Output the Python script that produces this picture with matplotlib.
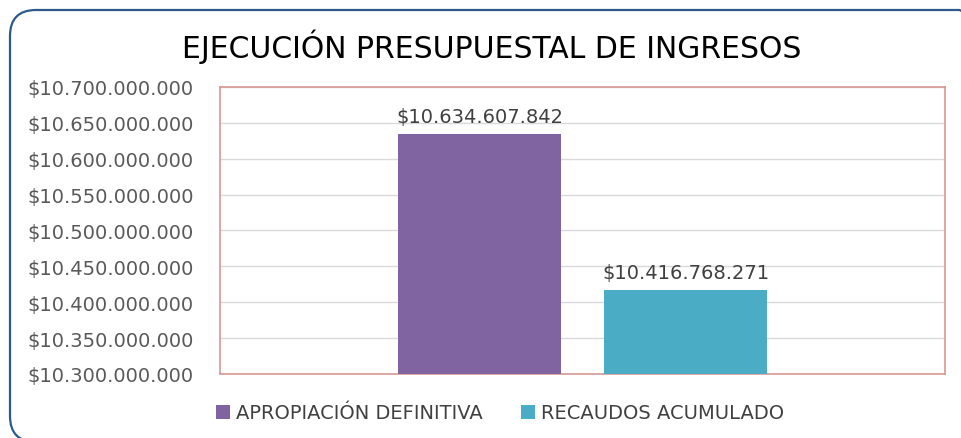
import matplotlib.pyplot as plt
from matplotlib.patches import FancyBboxPatch, Patch
from matplotlib.transforms import IdentityTransform
from matplotlib.ticker import FuncFormatter

plt.rcParams['font.family'] = ['DejaVu Sans']

# data
series = ["APROPIACIÓN DEFINITIVA", "RECAUDOS ACUMULADO"]
values = [10634607842, 10416768271]
colors = ["#8064A2", "#4BACC6"]
y_ticks = [10300000000, 10350000000, 10400000000, 10450000000,
           10500000000, 10550000000, 10600000000, 10650000000, 10700000000]


def pesos(v, pos=None):
    return "$" + f"{v:,.0f}".replace(",", ".")


fig = plt.figure(figsize=(9.62, 4.39), dpi=100)

# rounded outer frame (in pixels)
frame = FancyBboxPatch((10, -4), 975, 432, boxstyle="round,pad=0,rounding_size=26",
                       transform=IdentityTransform(), facecolor="none",
                       edgecolor="#2C5A8C", linewidth=1.6)
fig.add_artist(frame)

ax = fig.add_axes([220 / 962, 64 / 439, 725 / 962, 287 / 439])

offsets = [-0.142, 0.142]
for name, val, col, off in zip(series, values, colors, offsets):
    bars = ax.bar(off, val, width=0.225, color=col, label=name, zorder=3)
    ax.bar_label(bars, labels=[pesos(val)], padding=6, fontsize=14, color="#404040")

ax.set_xlim(-0.5, 0.5)
ax.set_ylim(y_ticks[0], y_ticks[-1])
ax.set_yticks(y_ticks)
ax.yaxis.set_major_formatter(FuncFormatter(pesos))
ax.set_xticks([])
ax.tick_params(axis="y", length=0, pad=19, labelsize=14, labelcolor="#595959")
ax.grid(axis="y", color="#D9D9D9", linewidth=1, zorder=0)
for s in ax.spines.values():
    s.set_color("#D99694")
    s.set_linewidth(1.2)

fig.text(492 / 962, 392 / 439, "EJECUCIÓN PRESUPUESTAL DE INGRESOS",
         ha="center", va="center", fontsize=21.5, color="black")

handles = [Patch(facecolor=c) for c in colors]
fig.legend(handles, series, loc="center", bbox_to_anchor=(500 / 962, 25 / 439),
           ncol=2, frameon=False, fontsize=14, labelcolor="#404040",
           handlelength=0.7, handleheight=0.7, handletextpad=0.3, columnspacing=2.0)

plt.savefig("out.png", dpi=100)
